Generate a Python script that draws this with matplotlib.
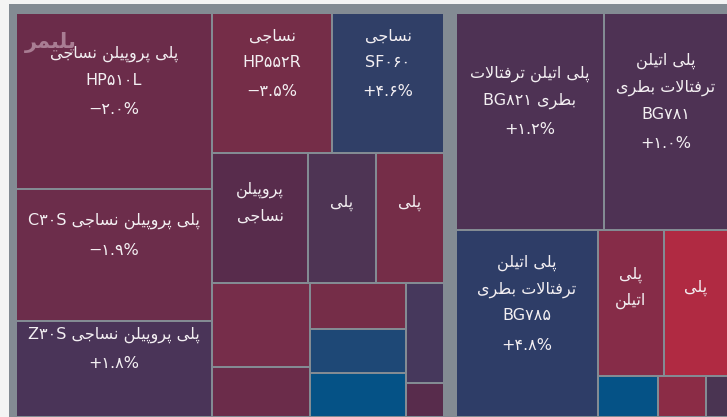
import matplotlib
matplotlib.use("Agg")
import matplotlib.pyplot as plt
from matplotlib.patches import Rectangle

plt.rcParams["font.family"] = ["DejaVu Sans"]

# ---- data -------------------------------------------------------------
labels = [
    "پلی پروپیلن نساجی\nHP510L",
    "پلی پروپیلن نساجی C30S",
    "پلی پروپیلن نساجی Z30S",
    "نساجی\nHP552R",
    "نساجی\nSF060",
    "پروپیلن\nنساجی",
    "پلی",
    "پلی",
    "", "", "", "", "", "", "",
    "پلی اتیلن ترفتالات\nبطری BG821",
    "پلی اتیلن\nترفتالات بطری\nBG781",
    "پلی اتیلن\nترفتالات بطری\nBG785",
    "پلی\nاتیلن",
    "پلی",
    "", "", "",
]
changes = [-2.0, -1.9, 1.8, -3.5, 4.6, None, None, None,
           None, None, None, None, None, None, None,
           1.2, 1.0, 4.8, None, None, None, None, None]
weights = [34496, 25872, 18816, 16800, 15680, 12480, 8840, 8840,
           8232, 4900, 4416, 4224, 4224, 3800, 1292,
           32116, 26908, 26554, 9636, 9344, 2460, 1968, 902]
colors = ["#6b2c4a", "#6c2d4b", "#4a3458", "#752d48", "#303f67", "#582c4c",
          "#4e3454", "#752d48", "#762d4a", "#6b2c4a", "#752d48", "#1e4876",
          "#055286", "#46385c", "#582c4c",
          "#4e3254", "#4e3254", "#2e3d67", "#862c48", "#b02a42", "#055286",
          "#8b2c46", "#4a3452"]

# nesting of the tiles: ("h", ...) splits side by side, ("v", ...) stacks
left_block = ("h", [("v", [0, 1, 2]),
                    ("v", [("h", [3, 4]), ("h", [5, 6, 7]),
                           ("h", [("v", [8, 9]), ("v", [10, 11, 12]), ("v", [13, 14])])])])
right_block = ("v", [("h", [15, 16]),
                     ("h", [17, ("v", [("h", [18, 19]), ("h", [20, 21, 22])])])])

# ---- Persian text shaping ------------------------------------------------
FORMS = {  # isolated, final, initial, medial
    "\u0627": ("\uFE8D", "\uFE8E", None, None),
    "\u0628": ("\uFE8F", "\uFE90", "\uFE91", "\uFE92"),
    "\u067E": ("\uFB56", "\uFB57", "\uFB58", "\uFB59"),
    "\u062A": ("\uFE95", "\uFE96", "\uFE97", "\uFE98"),
    "\u062C": ("\uFE9D", "\uFE9E", "\uFE9F", "\uFEA0"),
    "\u0631": ("\uFEAD", "\uFEAE", None, None),
    "\u0633": ("\uFEB1", "\uFEB2", "\uFEB3", "\uFEB4"),
    "\u0637": ("\uFEC1", "\uFEC2", "\uFEC3", "\uFEC4"),
    "\u0641": ("\uFED1", "\uFED2", "\uFED3", "\uFED4"),
    "\u0644": ("\uFEDD", "\uFEDE", "\uFEDF", "\uFEE0"),
    "\u0645": ("\uFEE1", "\uFEE2", "\uFEE3", "\uFEE4"),
    "\u0646": ("\uFEE5", "\uFEE6", "\uFEE7", "\uFEE8"),
    "\u0648": ("\uFEED", "\uFEEE", None, None),
    "\u06CC": ("\uFBFC", "\uFBFD", "\uFBFE", "\uFBFF"),
}
FA_DIGITS = str.maketrans("0123456789", "۰۱۲۳۴۵۶۷۸۹")


def joins_next(c):
    f = FORMS.get(c)
    return f is not None and f[2] is not None


def shape_word(word):
    out, i, n = [], 0, len(word)
    while i < n:
        c = word[i]
        f = FORMS.get(c)
        if f is None:
            out.append(c)
            i += 1
            continue
        linked_prev = i > 0 and joins_next(word[i - 1])
        if c == "\u0644" and i + 1 < n and word[i + 1] == "\u0627":
            out.append("\uFEFC" if linked_prev else "\uFEFB")
            i += 2
            continue
        linked_next = f[2] is not None and i + 1 < n and word[i + 1] in FORMS
        if linked_prev and linked_next:
            out.append(f[3])
        elif linked_prev:
            out.append(f[1])
        elif linked_next:
            out.append(f[2])
        else:
            out.append(f[0])
        i += 1
    return "".join(out)[::-1]


def visual_line(line):
    tokens = line.split(" ")
    rtl = [any(ch in FORMS for ch in t) for t in tokens]
    if not any(rtl):
        return line.translate(FA_DIGITS)
    parts = [shape_word(t) if r else t.translate(FA_DIGITS) for t, r in zip(tokens, rtl)]
    return " ".join(parts[::-1])


# ---- layout -------------------------------------------------------------
def node_weight(node):
    if isinstance(node, int):
        return weights[node]
    return sum(node_weight(ch) for ch in node[1])


def layout(node, x0, y0, x1, y1, out):
    if isinstance(node, int):
        out[node] = (x0, y0, x1, y1)
        return
    direction, children = node
    total = node_weight(node)
    pos = x0 if direction == "h" else y0
    for ch in children:
        frac = node_weight(ch) / total
        if direction == "h":
            step = (x1 - x0) * frac
            layout(ch, pos, y0, pos + step, y1, out)
        else:
            step = (y1 - y0) * frac
            layout(ch, x0, pos, x1, pos + step, out)
        pos += step


W, H = 727, 417
fig = plt.figure(figsize=(W / 100, H / 100), dpi=100, facecolor="#f4f4f4")
ax = fig.add_axes([0, 0, 1, 1])
ax.set_xlim(0, W)
ax.set_ylim(H, 0)
ax.axis("off")

border = "#838b93"
ax.add_patch(Rectangle((9, 4), W - 9, H - 4, facecolor=border, edgecolor="none"))

# the two sector blocks share the area with a wider gutter between them
area_x0, area_y0, area_x1, area_y1 = 16, 13, 728, 417
gutter = 12
wl, wr = node_weight(left_block), node_weight(right_block)
split = area_x0 + (area_x1 - area_x0 - gutter) * wl / (wl + wr)
rects = {}
layout(left_block, area_x0, area_y0, split, area_y1, rects)
layout(right_block, split + gutter, area_y0, area_x1, area_y1, rects)

ax.text(51, 42, visual_line("پلیمر"), color="#a97d93", fontsize=15,
        fontweight="bold", ha="center", va="center", zorder=2)

text_color = "#f3eff2"
step = 26.5
for i, (x0, y0, x1, y1) in rects.items():
    ax.add_patch(Rectangle((x0 + 1, y0 + 1), x1 - x0 - 2, y1 - y0 - 2,
                           facecolor=colors[i], edgecolor="none", zorder=1))
    if not labels[i]:
        continue
    lines = [visual_line(s) for s in labels[i].split("\n")]
    gaps = [step] * (len(lines) - 1)
    if changes[i] is not None:
        pct = f"{changes[i]:+.1f}%".replace("-", "−").translate(FA_DIGITS)
        lines.append(pct)
        gaps.append(step + 2.5)
        offset = 19.5
    else:
        offset = 15
    span = sum(gaps)
    cx = (x0 + x1) / 2
    y = (y0 + y1) / 2 - offset - span / 2
    for k, line in enumerate(lines):
        ax.text(cx, y, line, color=text_color, fontsize=11.5, ha="center",
                va="center", zorder=3)
        if k < len(gaps):
            y += gaps[k]

fig.savefig("out.png", dpi=100, facecolor=fig.get_facecolor())
